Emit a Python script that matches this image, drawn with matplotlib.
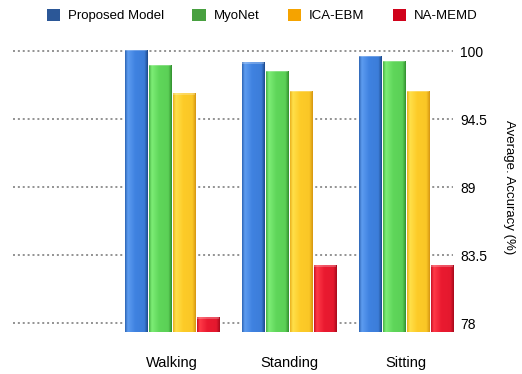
import numpy as np
import matplotlib
matplotlib.use("Agg")
import matplotlib.pyplot as plt
from matplotlib.colors import to_rgb
from matplotlib.patches import Rectangle

plt.rcParams['font.family'] = ['Liberation Sans', 'DejaVu Sans']

activities = ['Walking', 'Standing', 'Sitting']
models = ['Proposed Model', 'MyoNet', 'ICA-EBM', 'NA-MEMD']
proposed = [100.1, 99.1, 99.6]
myonet = [98.9, 98.4, 99.2]
ica_ebm = [96.6, 96.8, 96.8]
na_memd = [78.5, 82.7, 82.7]
yticks = [78, 83.5, 89, 94.5, 100]

series = [proposed, myonet, ica_ebm, na_memd]
legend_colors = ['#2b5797', '#48a040', '#f5a300', '#d0021b']
# (dark edge, main, highlight) for the shaded bar faces
bar_shades = [
    ('#1d4a8c', '#3f82e0', '#5d9cf0'),
    ('#32902f', '#5fd65a', '#7ded76'),
    ('#d69612', '#fdcb28', '#ffe04a'),
    ('#a80a1c', '#ea1a30', '#ff3a48'),
]

base = 77.3
width = 0.19
step = 0.205
xlims = (-1.36, 2.40)

fig = plt.figure(figsize=(5.22, 3.74), dpi=100)
ax = fig.add_axes([0.025, 0.112, 0.843, 0.778])

for y in yticks:
    ax.axhline(y, color='#8a8a8a', lw=1.3, linestyle=(0, (1.1, 1.6)), zorder=1)


def shaded(dark, main, light, n=64):
    d, m, l = np.array(to_rgb(dark)), np.array(to_rgb(main)), np.array(to_rgb(light))
    t = np.linspace(0, 1, n)
    stops = [(0.0, (d + m) / 2), (0.12, l), (0.45, m), (0.85, m * 0.92 + d * 0.08), (1.0, d)]
    xs = [s[0] for s in stops]
    cols = np.stack([np.interp(t, xs, [s[1][c] for s in stops]) for c in range(3)], axis=-1)
    return cols[np.newaxis, :, :]


x = np.arange(len(activities))
for i, vals in enumerate(series):
    offs = x + (i - 1.5) * step
    bars = ax.bar(offs, np.array(vals) - base, width, bottom=base,
                  color=bar_shades[i][1], edgecolor='none', zorder=2)
    img = shaded(*bar_shades[i])
    for b in bars:
        x0, y0 = b.get_x(), b.get_y()
        im = ax.imshow(img, extent=[x0, x0 + b.get_width(), y0, y0 + b.get_height()],
                       aspect='auto', zorder=3, interpolation='bilinear')
        im.set_clip_path(b)
        # thin lighter cap along the top
        ax.add_patch(Rectangle((x0, y0 + b.get_height() - 0.12), b.get_width(), 0.12,
                               facecolor='white', alpha=0.25, edgecolor='none', zorder=4))

ax.set_xlim(*xlims)
ax.set_ylim(base, 100.8)

ax.set_xticks(x)
ax.set_xticklabels(activities, fontsize=10.5)
ax.tick_params(axis='x', length=0, pad=17)
ax.yaxis.tick_right()
ax.set_yticks(yticks)
ax.set_yticklabels(['78', '83.5', '89', '94.5', '100'], fontsize=10)
ax.tick_params(axis='y', length=0, pad=5)
ax.yaxis.set_label_position('right')
ax.set_ylabel('Average. Accuracy (%)', fontsize=9.5, rotation=270, labelpad=20)
for s in ax.spines.values():
    s.set_visible(False)

handles = [Rectangle((0, 0), 1, 1, facecolor=c, edgecolor='none') for c in legend_colors]
fig.legend(handles, models, loc='upper left', bbox_to_anchor=(0.067, 1.008), ncol=4,
           frameon=False, fontsize=9.5, handlelength=1.0, handleheight=1.0,
           handletextpad=0.6, columnspacing=2.15)

fig.savefig('out.png', dpi=100)
